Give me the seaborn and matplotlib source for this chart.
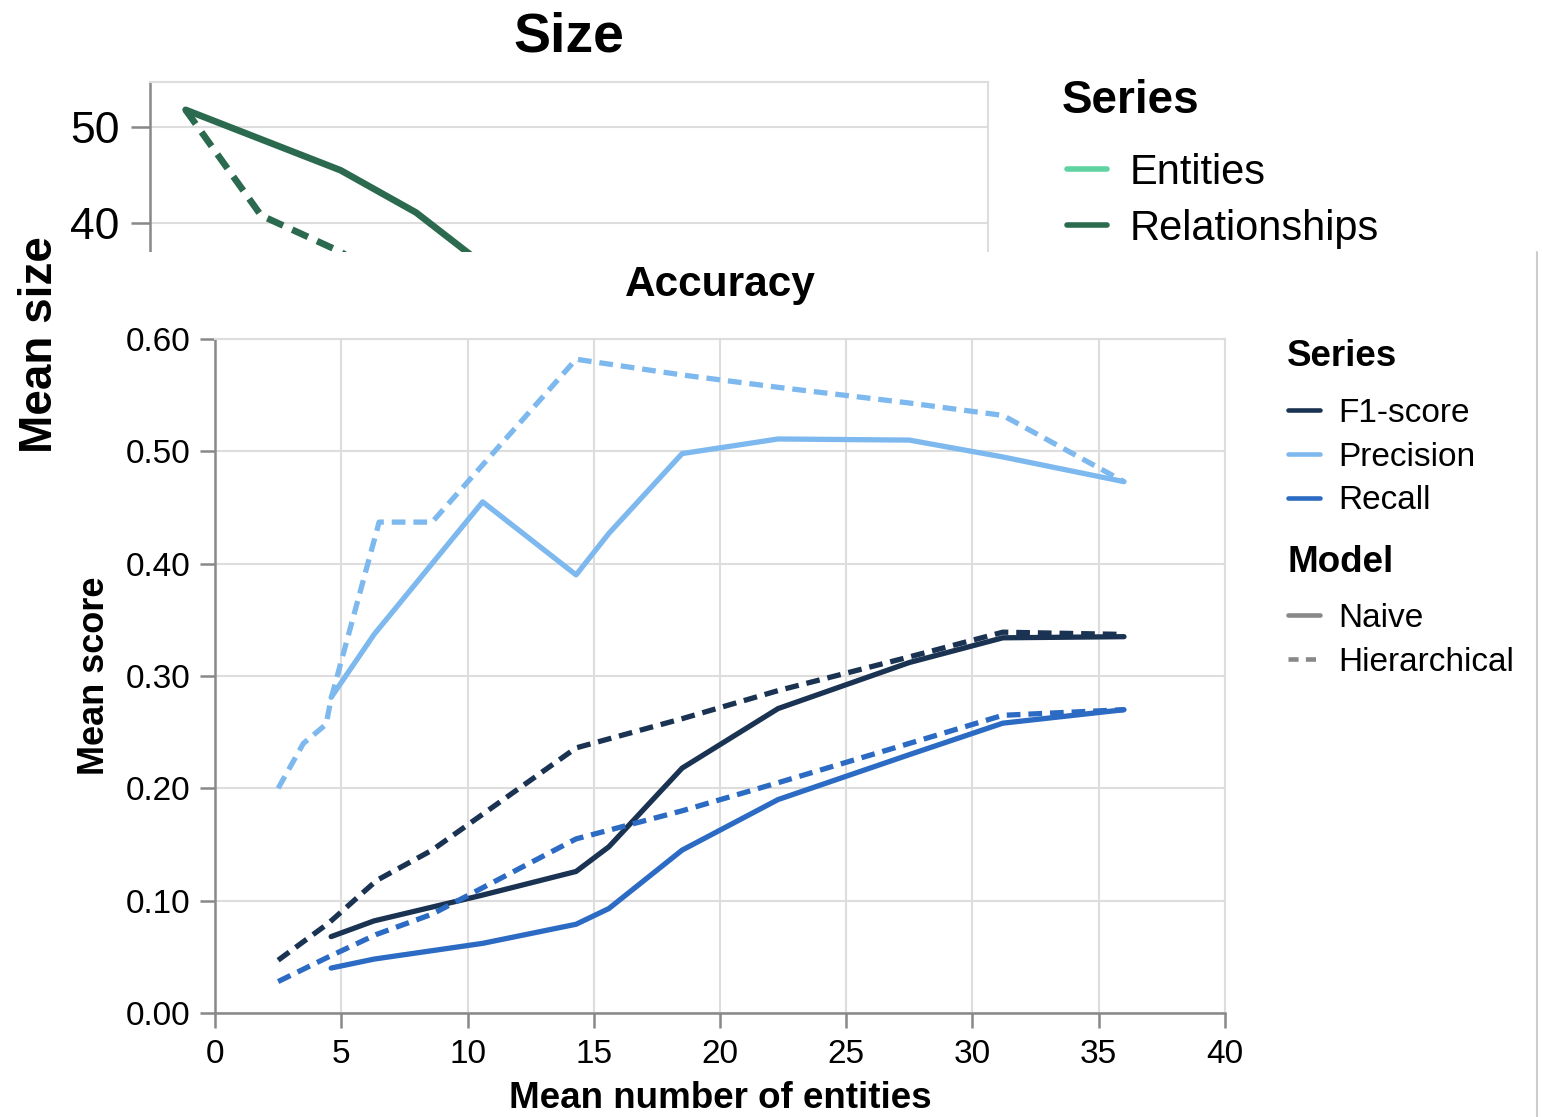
import matplotlib
matplotlib.use("Agg")
import matplotlib.pyplot as plt
from matplotlib.lines import Line2D
from matplotlib.patches import Rectangle
import seaborn as sns
import pandas as pd

# ---------------- data ----------------
# Size chart (mostly hidden behind the Accuracy panel)
size_x_rel_naive = [1.7, 9.1, 12.7, 15.3, 18.0]
size_rel_naive = [51.8, 45.5, 41.1, 36.7, 31.0]
size_x_rel_hier = [1.7, 5.3, 9.1, 12.0]
size_rel_hier = [51.8, 40.8, 37.0, 33.0]
size_x_ent = [1.7, 9.1, 15.3]
size_ent = [36.0, 30.0, 25.0]
size_yticks = [40, 50]

# Accuracy chart
naive_x = [4.6, 6.3, 10.6, 14.3, 15.6, 18.5, 22.3, 27.5, 31.2, 36.0]
f1_naive = [0.068, 0.082, 0.105, 0.126, 0.148, 0.218, 0.271, 0.312, 0.334, 0.335]
prec_naive = [0.281, 0.337, 0.455, 0.390, 0.427, 0.498, 0.511, 0.510, 0.495, 0.473]
rec_naive = [0.040, 0.048, 0.062, 0.079, 0.093, 0.145, 0.190, 0.230, 0.258, 0.270]

hier_x = [2.5, 4.5, 6.4, 8.6, 14.3, 18.5, 22.3, 27.5, 31.2, 36.0]
f1_hier = [0.047, 0.080, 0.118, 0.145, 0.236, 0.262, 0.287, 0.317, 0.339, 0.337]
rec_hier = [0.028, 0.050, 0.070, 0.088, 0.155, 0.180, 0.205, 0.240, 0.265, 0.270]
prec_hier_x = [2.5, 3.5, 4.4, 4.6, 6.5, 8.6, 14.3, 18.5, 22.3, 27.5, 31.2, 36.0]
prec_hier = [0.200, 0.240, 0.257, 0.280, 0.437, 0.437, 0.582, 0.568, 0.557, 0.543, 0.532, 0.473]

acc_xticks = [0, 5, 10, 15, 20, 25, 30, 35, 40]
acc_yticks = [0.0, 0.1, 0.2, 0.3, 0.4, 0.5, 0.6]

series_names = ["F1-score", "Precision", "Recall"]
model_names = ["Naive", "Hierarchical"]
size_series = ["Entities", "Relationships"]

# ---------------- styling ----------------
sns.set_theme(style="white")
plt.rcParams["font.family"] = ["Liberation Sans", "DejaVu Sans"]
plt.rcParams["text.color"] = "black"
plt.rcParams["axes.labelcolor"] = "black"

acc_palette = {"F1-score": "#1b3352", "Precision": "#7db8ee", "Recall": "#2c6bc3"}
size_palette = {"Entities": "#5fd3a1", "Relationships": "#2b6a4e"}
dash_map = {"Naive": "", "Hierarchical": (2.6, 1.5)}
AXIS_C = "#888888"
GRID_C = "#dddddd"

W, H = 1542, 1117
fig = plt.figure(figsize=(W / 100, H / 100), dpi=100)


def fx(px):
    return px / W


def fy(py):
    return 1 - py / H


def style_axes(ax, fs, tlen, tpad, xgrid=True):
    for s in ["top", "right"]:
        ax.spines[s].set_color(GRID_C)
        ax.spines[s].set_linewidth(1.5)
    for s in ["left", "bottom"]:
        ax.spines[s].set_color(AXIS_C)
        ax.spines[s].set_linewidth(1.8)
    ax.grid(True, axis="y", color=GRID_C, linewidth=1.5)
    ax.grid(xgrid, axis="x", color=GRID_C, linewidth=1.5)
    ax.set_axisbelow(True)
    ax.tick_params(axis="both", which="both", direction="out", length=tlen,
                   width=1.8, color=AXIS_C, labelcolor="black", labelsize=fs,
                   pad=tpad, left=True, bottom=True)


# ---------------- Size chart (background) ----------------
size_rows = []
for x, v in zip(size_x_ent, size_ent):
    size_rows.append({"x": x, "v": v, "Series": "Entities", "Model": "Naive"})
for x, v in zip(size_x_rel_naive, size_rel_naive):
    size_rows.append({"x": x, "v": v, "Series": "Relationships", "Model": "Naive"})
for x, v in zip(size_x_rel_hier, size_rel_hier):
    size_rows.append({"x": x, "v": v, "Series": "Relationships", "Model": "Hierarchical"})
size_df = pd.DataFrame(size_rows)

ax_s = fig.add_axes([fx(150), fy(607), fx(988) - fx(150), fy(82) - fy(607)], zorder=0)
sns.lineplot(data=size_df, x="x", y="v", hue="Series", style="Model",
             palette=size_palette, dashes=dash_map, linewidth=4.8,
             estimator=None, sort=True, legend=False, ax=ax_s)
ax_s.set_xlim(0, 40)
ax_s.set_ylim(0, 54.7)
ax_s.set_yticks(size_yticks)
ax_s.set_xticks([])
style_axes(ax_s, 32, 14, 8, xgrid=False)
ax_s.set_title("Size", fontsize=40, fontweight="bold", pad=22)
ax_s.set_xlabel("")
ax_s.set_ylabel("Mean size", fontsize=33, fontweight="bold", labelpad=6)

size_handles = [Line2D([], [], color=size_palette[s], linewidth=4.0) for s in size_series]
fig.text(fx(1062), fy(101), "Series", fontsize=33, fontweight="bold", ha="left", va="center")
fig.legend(size_handles, size_series, loc="upper left",
           bbox_to_anchor=(fx(1067), fy(153)), frameon=False, fontsize=30,
           handlelength=0.96, handletextpad=0.55, labelspacing=0.38,
           borderpad=0, borderaxespad=0)

# ---------------- overlay panel ----------------
fig.patches.append(Rectangle((fx(62), 0), fx(1537) - fx(62), fy(252), transform=fig.transFigure,
                             facecolor="white", edgecolor="none", zorder=1))
fig.add_artist(Line2D([fx(1537), fx(1537)], [0, fy(252)], transform=fig.transFigure,
                      color="#cccccc", linewidth=1.5, zorder=1.1))

# ---------------- Accuracy chart ----------------
rows = []
for s, vals in zip(series_names, [f1_naive, prec_naive, rec_naive]):
    for x, v in zip(naive_x, vals):
        rows.append({"x": x, "v": v, "Series": s, "Model": "Naive"})
for s, xs, vals in zip(series_names, [hier_x, prec_hier_x, hier_x], [f1_hier, prec_hier, rec_hier]):
    for x, v in zip(xs, vals):
        rows.append({"x": x, "v": v, "Series": s, "Model": "Hierarchical"})
acc_df = pd.DataFrame(rows)

ax = fig.add_axes([fx(215), fy(1013), fx(1225) - fx(215), fy(339) - fy(1013)], zorder=2)
sns.lineplot(data=acc_df, x="x", y="v", hue="Series", style="Model",
             palette=acc_palette, dashes=dash_map, linewidth=3.8,
             estimator=None, sort=True, legend=False, ax=ax)
ax.set_xlim(0, 40)
ax.set_ylim(0, 0.6)
ax.set_xticks(acc_xticks)
ax.set_yticks(acc_yticks)
ax.set_yticklabels([f"{t:.2f}" for t in acc_yticks])
style_axes(ax, 24, 11, 6.5)
ax.xaxis.set_tick_params(pad=8)
ax.set_title("Accuracy", fontsize=30.5, fontweight="bold", pad=31)
ax.set_xlabel("Mean number of entities", fontsize=26.5, fontweight="bold", labelpad=8)
ax.set_ylabel("Mean score", fontsize=26, fontweight="bold", labelpad=10)

series_handles = [Line2D([], [], color=acc_palette[s], linewidth=3.3) for s in series_names]
t1 = fig.text(fx(1287), fy(357), "Series", fontsize=26.5, fontweight="bold", ha="left", va="center")
t1.set_zorder(3)
leg1 = fig.legend(series_handles, series_names, loc="upper left",
                  bbox_to_anchor=(fx(1288), fy(398)), frameon=False, fontsize=24,
                  handlelength=0.96, handletextpad=0.54, labelspacing=0.38,
                  borderpad=0, borderaxespad=0)
leg1.set_zorder(3)

model_handles = [Line2D([], [], color="#888888", linewidth=3.3),
                 Line2D([], [], color="#888888", linewidth=3.3, dashes=(2.2, 1.6))]
t2 = fig.text(fx(1287), fy(563), "Model", fontsize=26.5, fontweight="bold", ha="left", va="center")
t2.set_zorder(3)
leg2 = fig.legend(model_handles, model_names, loc="upper left",
                  bbox_to_anchor=(fx(1288), fy(603)), frameon=False, fontsize=24,
                  handlelength=0.96, handletextpad=0.54, labelspacing=0.38,
                  borderpad=0, borderaxespad=0)
leg2.set_zorder(3)

fig.savefig("out.png", dpi=100, facecolor="white")
